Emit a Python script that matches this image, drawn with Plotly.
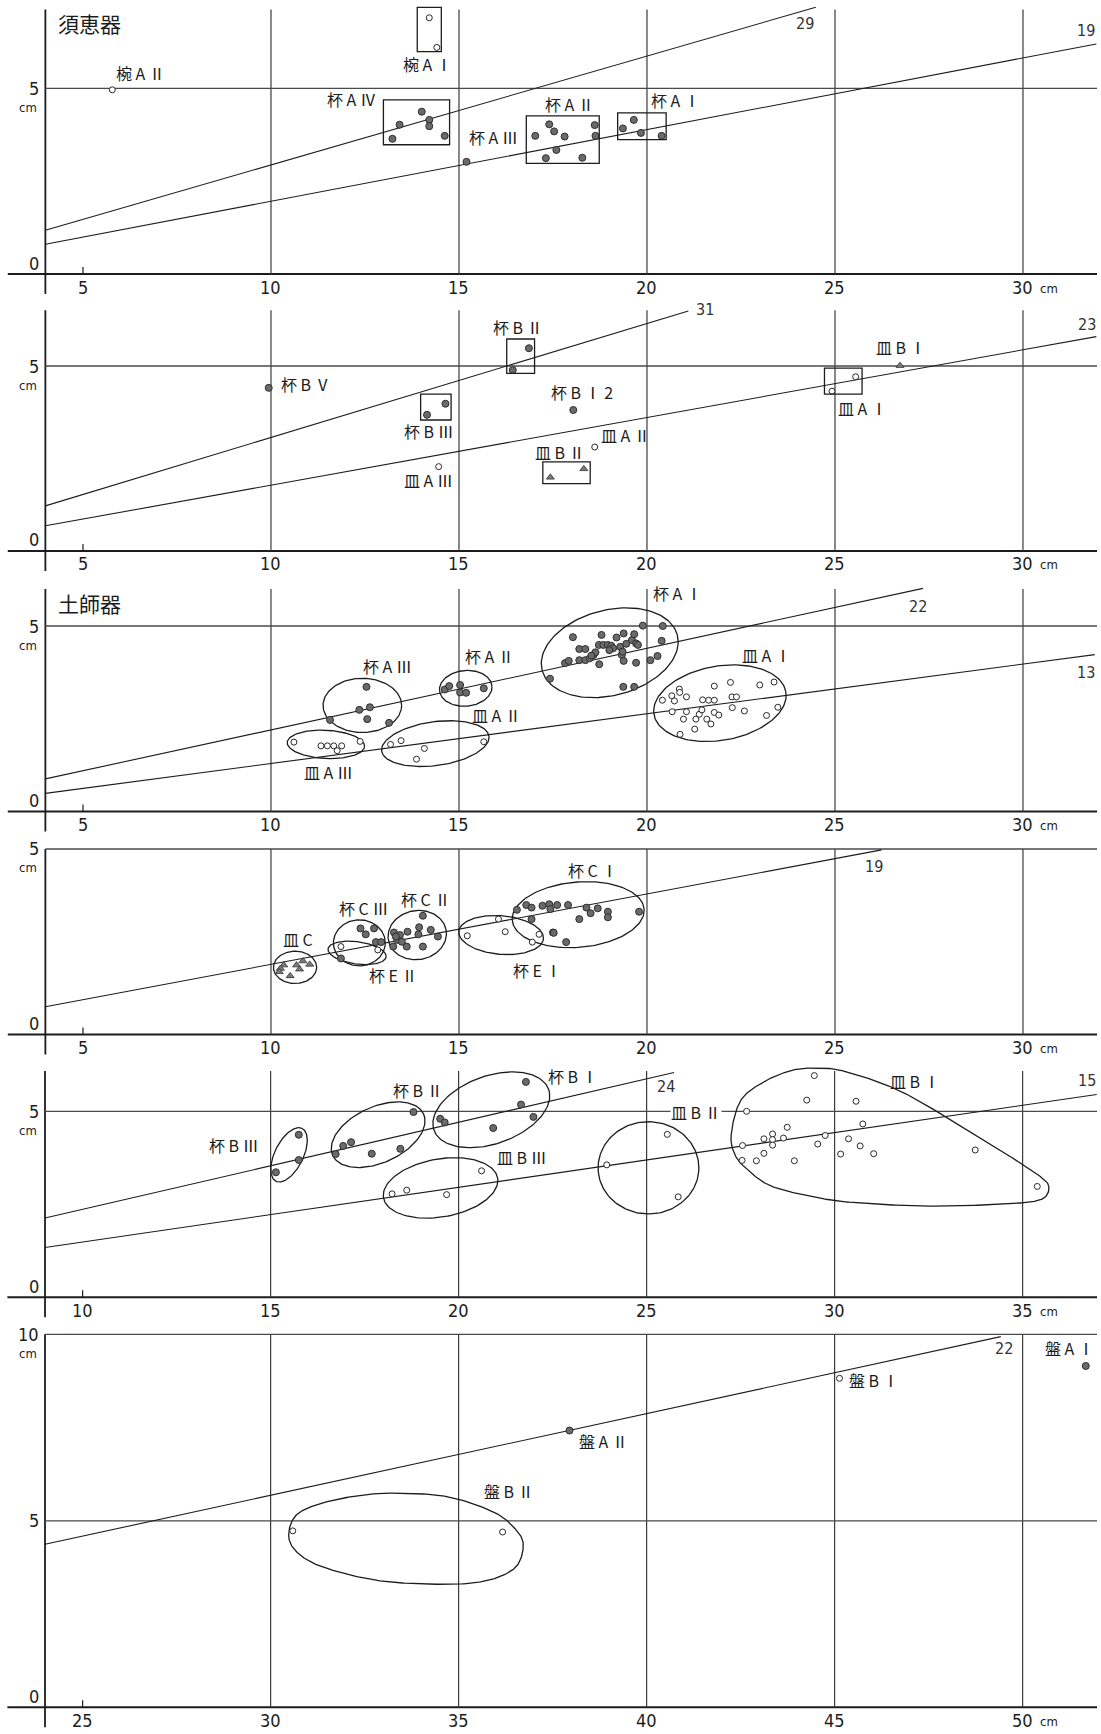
import numpy as np
import plotly.graph_objects as go

# ------------------------------------------------------------------
# Measurements: rim diameter (x, cm) against height (y, cm)
# ------------------------------------------------------------------

# ---- 須恵器 杯A・椀A ----
p1_wanA2_x = [5.78]
p1_wanA2_y = [4.96]
p1_wanA1_x = [14.21, 14.41]
p1_wanA1_y = [6.90, 6.10]
p1_kaiA4_x = [14.01, 14.21, 14.21, 13.42, 13.23, 14.62]
p1_kaiA4_y = [4.37, 4.15, 3.98, 4.02, 3.64, 3.72]
p1_kaiA3_x = [15.20]
p1_kaiA3_y = [3.02]
p1_kaiA2_x = [17.03, 17.40, 17.53, 17.81, 17.59, 17.31, 18.28, 18.61, 18.63]
p1_kaiA2_y = [3.72, 4.03, 3.84, 3.70, 3.34, 3.12, 3.13, 4.01, 3.72]
p1_kaiA1_x = [19.36, 19.65, 19.84, 20.39]
p1_kaiA1_y = [3.92, 4.15, 3.80, 3.72]
# group boxes: [x_min, x_max, y_min, y_max]
p1_boxes = [[13.89, 14.53, 5.99, 7.18], [12.99, 14.75, 3.48, 4.69],
            [16.79, 18.73, 2.98, 4.26], [19.22, 20.51, 3.62, 4.34]]
# fitted lines: [x_start, y_at_start, slope, x_end], count label
p1_fits = [[4.0, 1.18, 0.293, 24.49], [4.0, 0.80, 0.193, 31.95]]
p1_fit_counts = ["29", "19"]

# ---- 須恵器 杯B・皿A・皿B ----
p2_kaiB5_x = [9.94]
p2_kaiB5_y = [4.41]
p2_kaiB3_x = [14.64, 14.15]
p2_kaiB3_y = [3.98, 3.68]
p2_kaiB2_x = [16.86, 16.43]
p2_kaiB2_y = [5.48, 4.89]
p2_kaiB12_x = [18.04]
p2_kaiB12_y = [3.81]
p2_saraA3_x = [14.46]
p2_saraA3_y = [2.28]
p2_saraA2_x = [18.61]
p2_saraA2_y = [2.81]
p2_saraA1_x = [25.55, 24.92]
p2_saraA1_y = [4.71, 4.32]
p2_saraB2_x = [17.43, 18.32]
p2_saraB2_y = [1.99, 2.22]
p2_saraB1_x = [26.73]
p2_saraB1_y = [5.01]
p2_boxes = [[13.98, 14.79, 3.54, 4.24], [16.27, 17.01, 4.80, 5.73],
            [17.23, 18.49, 1.82, 2.41], [24.72, 25.72, 4.24, 4.94]]
p2_fits = [[4.0, 1.22, 0.308, 21.10], [4.0, 0.68, 0.183, 31.95]]
p2_fit_counts = ["31", "23"]

# ---- 土師器 杯A・皿A ----
p3_kaiA3_x = [12.54, 12.35, 12.63, 12.56, 11.57, 13.14]
p3_kaiA3_y = [3.36, 2.74, 2.81, 2.49, 2.47, 2.39]
p3_kaiA2_x = [14.62, 14.74, 15.03, 15.03, 15.19, 15.66]
p3_kaiA2_y = [3.29, 3.38, 3.41, 3.21, 3.20, 3.32]
p3_saraA3_x = [10.61, 11.33, 11.50, 11.67, 11.88, 11.76, 12.37]
p3_saraA3_y = [1.87, 1.77, 1.77, 1.77, 1.77, 1.64, 1.89]
p3_saraA2_x = [13.18, 13.46, 14.08, 13.87, 15.66]
p3_saraA2_y = [1.81, 1.91, 1.70, 1.41, 1.88]
p3_kaiA1_x = [17.42, 17.82, 17.92, 18.03, 18.20, 18.36, 18.20, 18.36, 18.48, 18.58,
              18.63, 18.72, 18.73, 18.79, 18.84, 18.96, 19.05, 19.10, 19.19, 19.29,
              19.33, 19.38, 19.35, 19.38, 19.60, 19.66, 19.71, 19.76, 19.71, 19.37,
              19.66, 19.89, 20.09, 20.28, 20.39, 20.42, 18.52, 19.00, 19.45]
p3_kaiA1_y = [3.58, 4.00, 4.06, 4.70, 4.38, 4.38, 4.08, 4.08, 4.13, 4.22,
              4.29, 4.49, 3.97, 4.76, 4.49, 4.49, 4.47, 4.40, 4.69, 4.44,
              4.22, 4.80, 4.31, 4.06, 4.62, 4.78, 4.53, 4.49, 4.01, 3.36,
              3.36, 5.01, 4.08, 4.19, 4.60, 5.00, 4.20, 4.35, 4.52]
p3_saraA1_x = [20.41, 20.66, 20.73, 20.86, 20.87, 21.05, 20.67, 21.05, 20.97, 20.88,
               21.27, 21.30, 21.39, 21.46, 21.48, 21.64, 21.79, 21.79, 21.59, 21.70,
               21.79, 21.91, 22.22, 22.26, 22.38, 22.27, 22.59, 23.00, 23.18, 23.38,
               23.48]
p3_saraA1_y = [3.00, 3.12, 2.98, 3.30, 3.21, 3.09, 2.69, 2.69, 2.49, 2.08,
               2.22, 2.49, 2.62, 2.74, 3.01, 3.00, 3.00, 3.38, 2.49, 2.36,
               2.67, 2.60, 3.48, 3.09, 3.09, 2.80, 2.71, 3.41, 2.59, 3.49,
               2.81]
p3_fits = [[4.0, 0.88, 0.220, 27.34], [4.0, 0.49, 0.134, 31.91]]
p3_fit_counts = ["22", "13"]

# ---- 土師器 杯C・杯E・皿C ----
p4_saraC_x = [10.34, 10.25, 10.22, 10.51, 10.68, 10.85, 11.03, 10.76]
p4_saraC_y = [1.87, 1.78, 1.69, 1.58, 1.87, 1.98, 1.89, 1.76]
p4_kaiC3_x = [12.38, 12.74, 12.52, 12.79, 12.93, 11.86]
p4_kaiC3_y = [2.86, 2.86, 2.70, 2.49, 2.49, 2.05]
p4_kaiE2_x = [11.86, 12.84]
p4_kaiE2_y = [2.37, 2.28]
p4_kaiC2_x = [14.04, 13.27, 13.43, 13.63, 13.94, 13.92, 14.25, 14.44, 13.25, 13.61,
              14.04, 13.36, 13.48, 13.32]
p4_kaiC2_y = [3.20, 2.75, 2.68, 2.77, 2.89, 2.70, 2.82, 2.64, 2.37, 2.37,
              2.37, 2.55, 2.50, 2.64]
p4_kaiE1_x = [15.22, 16.05, 16.23, 17.13, 16.95]
p4_kaiE1_y = [2.66, 3.11, 2.77, 2.70, 2.49]
p4_kaiC1_x = [16.54, 16.79, 16.93, 17.22, 16.93, 17.50, 17.40, 17.43, 17.61, 17.90,
              17.52, 17.85, 18.20, 18.39, 18.50, 18.69, 18.96, 18.96, 19.79]
p4_kaiC1_y = [3.36, 3.49, 3.42, 3.47, 3.11, 2.75, 3.51, 3.38, 3.49, 3.49,
              2.74, 2.49, 3.11, 3.42, 3.27, 3.40, 3.31, 3.16, 3.31]
p4_fits = [[4.0, 0.75, 0.190, 26.24]]
p4_fit_counts = ["19"]

# ---- 土師器 杯B・皿B ----
p5_kaiB3_x = [15.75, 15.75, 15.14]
p5_kaiB3_y = [4.37, 3.69, 3.36]
p5_kaiB2_x = [16.73, 16.93, 17.14, 17.69, 18.45, 18.80]
p5_kaiB2_y = [3.85, 4.07, 4.17, 3.86, 3.99, 4.98]
p5_kaiB1_x = [19.51, 19.63, 20.92, 21.66, 21.79, 21.99]
p5_kaiB1_y = [4.80, 4.70, 4.55, 5.18, 5.79, 4.85]
p5_saraB3_x = [18.23, 18.62, 19.68, 20.61]
p5_saraB3_y = [2.78, 2.88, 2.76, 3.40]
p5_saraB2_x = [23.94, 25.55, 25.84]
p5_saraB2_y = [3.56, 4.38, 2.70]
p5_saraB1_x = [29.46, 29.26, 30.57, 27.66, 30.75, 28.74, 29.75, 30.37, 28.35, 28.12,
               28.35, 28.64, 28.35, 27.55, 29.55, 30.68, 28.12, 30.16, 31.04, 27.54,
               27.92, 28.93, 33.74, 35.39]
p5_saraB1_y = [5.96, 5.30, 5.27, 5.00, 4.66, 4.57, 4.35, 4.26, 4.39, 4.26,
               4.24, 4.28, 4.09, 4.08, 4.12, 4.07, 3.87, 3.85, 3.86, 3.68,
               3.67, 3.67, 3.96, 2.98]
# outline drawn round the 皿BⅠ group
p5_saraB1_hull_x = [27.25, 27.49, 28.06, 28.82, 29.48, 30.24, 31.67, 33.09, 34.52, 35.47,
                    35.70, 35.47, 34.52, 32.62, 30.72, 29.58, 28.34, 27.68, 27.35]
p5_saraB1_hull_y = [4.37, 5.27, 5.76, 6.09, 6.16, 6.08, 5.58, 4.77, 3.88, 3.25,
                    2.94, 2.62, 2.51, 2.45, 2.53, 2.67, 2.98, 3.43, 3.83]
p5_fits = [[9.0, 2.13, 0.234, 25.73], [9.0, 1.34, 0.147, 36.97]]
p5_fit_counts = ["24", "15"]

# ---- 盤 ----
p6_banB2_x = [30.59, 36.17]
p6_banB2_y = [4.73, 4.70]
p6_banA2_x = [37.95]
p6_banA2_y = [7.42]
p6_banB1_x = [45.13]
p6_banB1_y = [8.82]
p6_banA1_x = [51.68]
p6_banA1_y = [9.15]
p6_banB2_hull_x = [30.48, 30.69, 31.36, 32.31, 33.26, 34.68, 35.92, 36.49, 36.72, 36.49,
                   35.63, 34.35, 32.78, 31.36, 30.69]
p6_banB2_hull_y = [4.62, 5.16, 5.47, 5.67, 5.74, 5.65, 5.24, 4.80, 4.35, 3.73,
                   3.37, 3.30, 3.41, 3.77, 4.17]
p6_fits = [[24.0, 4.37, 0.219, 49.42]]
p6_fit_counts = ["22"]

# ------------------------------------------------------------------
# Page and style
# ------------------------------------------------------------------
W, H = 1101, 1734
PX_PER_CM = 37.6
NUM_FONT = "Liberation Sans Narrow, DejaVu Sans Condensed, Arial Narrow, sans-serif"
JP_FONT = "Noto Sans CJK JP, Noto Sans CJK SC, sans-serif"
INK = "#1c1c1c"
GRID = "#3a3a3a"

FILLED = dict(symbol="circle", size=7, color="#6a6a6a", line=dict(color="#2e2e2e", width=1))
OPEN = dict(symbol="circle", size=6, color="white", line=dict(color="#2a2a2a", width=1))
TRI = dict(symbol="triangle-up", size=7, color="#7a7a7a", line=dict(color="#333333", width=0.8))

# strip layout: x origin of the page, y range, pixel band, axes furniture
PANELS = [
    dict(x0=2.793, yr=(-0.70, 7.378), band=(0, 300), ax=4.0, grid=[10, 15, 20, 25, 30],
         ticks=[5, 10, 15, 20, 25, 30], hl=[5], top=7.12, ylab=[5, 0]),
    dict(x0=2.793, yr=(-0.649, 6.784), band=(300, 575), ax=4.0, grid=[10, 15, 20, 25, 30],
         ticks=[5, 10, 15, 20, 25, 30], hl=[5], top=6.51, ylab=[5, 0]),
    dict(x0=2.793, yr=(-0.633, 6.375), band=(575, 835), ax=4.0, grid=[10, 15, 20, 25, 30],
         ticks=[5, 10, 15, 20, 25, 30], hl=[5], top=6.0, ylab=[5, 0]),
    dict(x0=2.793, yr=(-0.687, 5.377), band=(835, 1060), ax=4.0, grid=[10, 15, 20, 25, 30],
         ticks=[5, 10, 15, 20, 25, 30], hl=[5], top=5.0, ylab=[5, 0]),
    dict(x0=7.803, yr=(-0.610, 6.379), band=(1060, 1320), ax=9.0, grid=[15, 20, 25, 30, 35],
         ticks=[10, 15, 20, 25, 30, 35], hl=[5], top=6.08, ylab=[5, 0]),
    dict(x0=22.803, yr=(-0.716, 10.383), band=(1320, 1734), ax=24.0, grid=[30, 35, 40, 45, 50],
         ticks=[25, 30, 35, 40, 45, 50], hl=[5, 10], top=10.0, ylab=[10, 5, 0]),
]

fig = go.Figure()
layout_axes = {}


def refs(i):
    return ("x" if i == 1 else f"x{i}", "y" if i == 1 else f"y{i}")


for i, p in enumerate(PANELS, start=1):
    xa, ya = refs(i)
    t, b = p["band"]
    layout_axes["xaxis" if i == 1 else f"xaxis{i}"] = dict(
        domain=[0, 1], range=[p["x0"], p["x0"] + W / PX_PER_CM], visible=False,
        fixedrange=True, anchor=ya)
    layout_axes["yaxis" if i == 1 else f"yaxis{i}"] = dict(
        domain=[1 - b / H, 1 - t / H], range=list(p["yr"]), visible=False,
        fixedrange=True, anchor=xa)
    p["ky"] = (b - t) / (p["yr"][1] - p["yr"][0])
    p["xr"] = p["x0"] + 1097 / PX_PER_CM


def line(i, x0, y0, x1, y1, color=GRID, width=1.2):
    xa, ya = refs(i)
    fig.add_shape(type="line", xref=xa, yref=ya, x0=x0, y0=y0, x1=x1, y1=y1,
                  line=dict(color=color, width=width), layer="below")


def text(i, x, y, s, size=16, font=JP_FONT, xanchor="center", yanchor="middle",
         xshift=0, yshift=0, color=INK, bg=None):
    xa, ya = refs(i)
    fig.add_annotation(x=x, y=y, xref=xa, yref=ya, text=s, showarrow=False,
                       xanchor=xanchor, yanchor=yanchor, xshift=xshift, yshift=yshift,
                       font=dict(family=font, size=size, color=color),
                       bgcolor=bg, borderpad=0)


def points(i, xs, ys, style):
    xa, ya = refs(i)
    fig.add_trace(go.Scatter(x=xs, y=ys, mode="markers", marker=style, xaxis=xa, yaxis=ya,
                             hoverinfo="skip", showlegend=False, cliponaxis=False))


def outline(i, xs, ys, width=1.3):
    xa, ya = refs(i)
    fig.add_trace(go.Scatter(x=xs, y=ys, mode="lines", line=dict(color=INK, width=width),
                             xaxis=xa, yaxis=ya, hoverinfo="skip", showlegend=False))


def ellipse(i, cx, cy, a, b, ang):
    tt = np.linspace(0, 2 * np.pi, 160)
    r = np.deg2rad(ang)
    xs = cx + a * np.cos(tt) * np.cos(r) - b * np.sin(tt) * np.sin(r)
    ys = cy + a * np.cos(tt) * np.sin(r) + b * np.sin(tt) * np.cos(r)
    outline(i, xs, ys)


def hull(i, hx, hy, n=24):
    P = np.column_stack([hx, hy])
    m = len(P)
    segs = []
    s = np.linspace(0, 1, n, endpoint=False)[:, None]
    for k in range(m):
        p0, p1, p2, p3 = P[k - 1], P[k], P[(k + 1) % m], P[(k + 2) % m]
        segs.append(0.5 * (2 * p1 + (-p0 + p2) * s + (2 * p0 - 5 * p1 + 4 * p2 - p3) * s ** 2
                           + (-p0 + 3 * p1 - 3 * p2 + p3) * s ** 3))
    pts = np.vstack(segs + [P[:1]])
    outline(i, pts[:, 0], pts[:, 1])


def box(i, bx):
    xa, ya = refs(i)
    fig.add_shape(type="rect", xref=xa, yref=ya, x0=bx[0], x1=bx[1], y0=bx[2], y1=bx[3],
                  line=dict(color=INK, width=1.3), fillcolor="rgba(0,0,0,0)")


def fits(i, specs, counts, label_pos):
    xa, ya = refs(i)
    for (xs, ys, sl, xe), c, (lx, ly) in zip(specs, counts, label_pos):
        fig.add_trace(go.Scatter(x=[xs, xe], y=[ys, ys + sl * (xe - xs)], mode="lines",
                                 line=dict(color=INK, width=1.1), xaxis=xa, yaxis=ya,
                                 hoverinfo="skip", showlegend=False))
        text(i, lx, ly, c, size=16, font=NUM_FONT, color="#333333")


# ---- frame of every strip: axes, grid, reference lines, tick labels ----
for i, p in enumerate(PANELS, start=1):
    ky = p["ky"]
    line(i, p["ax"] - 1.0, 0, p["xr"], 0, color=INK, width=2)
    line(i, p["ax"], -20 / ky, p["ax"], p["top"], color=INK, width=1.8)
    for g in p["grid"]:
        line(i, g, 0, g, p["top"])
    line(i, p["ticks"][0], 0, p["ticks"][0], 7 / ky, color=INK, width=1.2)
    for h in p["hl"]:
        line(i, p["ax"], h, p["xr"], h, color="#4a4a4a", width=1.3)
    for tk in p["ticks"]:
        text(i, tk, 0, str(tk), size=18, font=NUM_FONT, yshift=-13)
    text(i, p["ticks"][-1] + 0.43, 0, "cm", size=13, font=NUM_FONT, xanchor="left", yshift=-14)
    for v in p["ylab"]:
        text(i, p["ax"], v, str(v), size=18, font=NUM_FONT, xanchor="right",
             xshift=-5, yshift=11 if v == 0 else 0)
    text(i, p["ax"], p["ylab"][0], "cm", size=13, font=NUM_FONT, xanchor="right",
         xshift=-7, yshift=-19)

# ---- strip 1: 須恵器 杯A・椀A ----
text(1, 4.31, 6.75, "須恵器", size=21, xanchor="left")
for bx in p1_boxes:
    box(1, bx)
fits(1, p1_fits, p1_fit_counts, [(24.20, 6.75), (31.67, 6.55)])
points(1, p1_wanA2_x, p1_wanA2_y, OPEN)
points(1, p1_wanA1_x, p1_wanA1_y, OPEN)
points(1, p1_kaiA4_x, p1_kaiA4_y, FILLED)
points(1, p1_kaiA3_x, p1_kaiA3_y, FILLED)
points(1, p1_kaiA2_x, p1_kaiA2_y, FILLED)
points(1, p1_kaiA1_x, p1_kaiA1_y, FILLED)
for s, x, y in [("椀 A Ⅱ", 6.52, 5.41), ("椀 A Ⅰ", 14.15, 5.65), ("杯 A Ⅳ", 12.15, 4.70),
                ("杯 A Ⅲ", 15.93, 3.68), ("杯 A Ⅱ", 17.95, 4.58), ("杯 A Ⅰ", 20.77, 4.68)]:
    text(1, x, y, s)

# ---- strip 2: 須恵器 杯B・皿 ----
for bx in p2_boxes:
    box(2, bx)
fits(2, p2_fits, p2_fit_counts, [(21.54, 6.54), (31.69, 6.11)])
points(2, p2_kaiB5_x, p2_kaiB5_y, FILLED)
points(2, p2_kaiB3_x, p2_kaiB3_y, FILLED)
points(2, p2_kaiB2_x, p2_kaiB2_y, FILLED)
points(2, p2_kaiB12_x, p2_kaiB12_y, FILLED)
points(2, p2_saraA3_x, p2_saraA3_y, OPEN)
points(2, p2_saraA2_x, p2_saraA2_y, OPEN)
points(2, p2_saraA1_x, p2_saraA1_y, OPEN)
points(2, p2_saraB2_x, p2_saraB2_y, TRI)
points(2, p2_saraB1_x, p2_saraB1_y, TRI)
text(2, 10.24, 4.51, "杯 B Ⅴ", xanchor="left")
for s, x, y in [("杯 B Ⅲ", 14.20, 3.24), ("杯 B Ⅱ", 16.57, 6.06), ("皿 A Ⅲ", 14.18, 1.92),
                ("杯 B Ⅰ 2", 18.26, 4.29), ("皿 A Ⅱ", 19.43, 3.14), ("皿 B Ⅱ", 17.69, 2.68),
                ("皿 A Ⅰ", 25.73, 3.87), ("皿 B Ⅰ", 26.76, 5.51)]:
    text(2, x, y, s)

# ---- strip 3: 土師器 杯A・皿A ----
text(3, 4.31, 5.61, "土師器", size=21, xanchor="left")
fits(3, p3_fits, p3_fit_counts, [(27.22, 5.52), (31.67, 3.74)])
ellipse(3, 12.43, 2.86, 1.045, 0.73, 0)
ellipse(3, 15.18, 3.32, 0.70, 0.48, 5)
ellipse(3, 11.46, 1.81, 1.03, 0.38, -3)
ellipse(3, 14.37, 1.83, 1.44, 0.59, 8)
ellipse(3, 19.01, 4.28, 1.86, 1.15, 15)
ellipse(3, 21.94, 2.92, 1.78, 1.00, 10)
points(3, p3_kaiA3_x, p3_kaiA3_y, FILLED)
points(3, p3_kaiA2_x, p3_kaiA2_y, FILLED)
points(3, p3_kaiA1_x, p3_kaiA1_y, FILLED)
points(3, p3_saraA3_x, p3_saraA3_y, OPEN)
points(3, p3_saraA2_x, p3_saraA2_y, OPEN)
points(3, p3_saraA1_x, p3_saraA1_y, OPEN)
for s, x, y in [("杯 A Ⅲ", 13.09, 3.93), ("杯 A Ⅱ", 15.80, 4.20), ("皿 A Ⅲ", 11.54, 1.07),
                ("皿 A Ⅱ", 16.01, 2.60), ("杯 A Ⅰ", 20.80, 5.88), ("皿 A Ⅰ", 23.19, 4.22)]:
    text(3, x, y, s)

# ---- strip 4: 土師器 杯C・杯E・皿C ----
fits(4, p4_fits, p4_fit_counts, [(26.04, 4.52)])
ellipse(4, 10.64, 1.81, 0.575, 0.435, 0)
ellipse(4, 12.35, 2.47, 0.69, 0.62, 0)
ellipse(4, 12.29, 2.20, 0.78, 0.30, -8)
ellipse(4, 13.89, 2.68, 0.78, 0.66, 10)
ellipse(4, 16.12, 2.68, 1.13, 0.52, -5)
ellipse(4, 18.17, 3.23, 1.76, 0.88, 5)
points(4, p4_saraC_x, p4_saraC_y, TRI)
points(4, p4_kaiC3_x, p4_kaiC3_y, FILLED)
points(4, p4_kaiE2_x, p4_kaiE2_y, OPEN)
points(4, p4_kaiC2_x, p4_kaiC2_y, FILLED)
points(4, p4_kaiE1_x, p4_kaiE1_y, OPEN)
points(4, p4_kaiC1_x, p4_kaiC1_y, FILLED)
for s, x, y in [("皿 C", 10.72, 2.57), ("杯 C Ⅲ", 12.47, 3.42), ("杯 E Ⅱ", 13.27, 1.60),
                ("杯 C Ⅱ", 14.12, 3.65), ("杯 E Ⅰ", 17.09, 1.74), ("杯 C Ⅰ", 18.56, 4.43)]:
    text(4, x, y, s)

# ---- strip 5: 土師器 杯B・皿B ----
fits(5, p5_fits, p5_fit_counts, [(25.51, 5.67), (36.70, 5.82)])
ellipse(5, 15.49, 3.83, 0.79, 0.38, 64)
ellipse(5, 17.86, 4.37, 1.33, 0.75, 25)
ellipse(5, 20.87, 5.04, 1.62, 0.91, 20)
ellipse(5, 19.52, 2.94, 1.54, 0.78, 10)
ellipse(5, 25.05, 3.48, 1.34, 1.24, 0)
hull(5, p5_saraB1_hull_x, p5_saraB1_hull_y)
points(5, p5_kaiB3_x, p5_kaiB3_y, FILLED)
points(5, p5_kaiB2_x, p5_kaiB2_y, FILLED)
points(5, p5_kaiB1_x, p5_kaiB1_y, FILLED)
points(5, p5_saraB3_x, p5_saraB3_y, OPEN)
points(5, p5_saraB2_x, p5_saraB2_y, OPEN)
points(5, p5_saraB1_x, p5_saraB1_y, OPEN)
for s, x, y in [("杯 B Ⅲ", 14.02, 4.09), ("杯 B Ⅱ", 18.92, 5.58), ("杯 B Ⅰ", 23.04, 5.94),
                ("皿 B Ⅲ", 21.69, 3.76), ("皿 B Ⅰ", 32.14, 5.82)]:
    text(5, x, y, s)
text(5, 26.31, 4.97, "皿 B Ⅱ", bg="white")

# ---- strip 6: 盤 ----
fits(6, p6_fits, p6_fit_counts, [(49.51, 9.62)])
hull(6, p6_banB2_hull_x, p6_banB2_hull_y)
points(6, p6_banB2_x, p6_banB2_y, OPEN)
points(6, p6_banA2_x, p6_banA2_y, FILLED)
points(6, p6_banB1_x, p6_banB1_y, OPEN)
points(6, p6_banA1_x, p6_banA1_y, FILLED)
for s, x, y in [("盤 B Ⅱ", 36.35, 5.80), ("盤 A Ⅱ", 38.85, 7.14), ("盤 B Ⅰ", 46.05, 8.77),
                ("盤 A Ⅰ", 51.25, 9.62)]:
    text(6, x, y, s)

fig.update_layout(width=W, height=H, margin=dict(l=0, r=0, t=0, b=0),
                  paper_bgcolor="white", plot_bgcolor="white", showlegend=False,
                  **layout_axes)
fig.write_html("out.html")
